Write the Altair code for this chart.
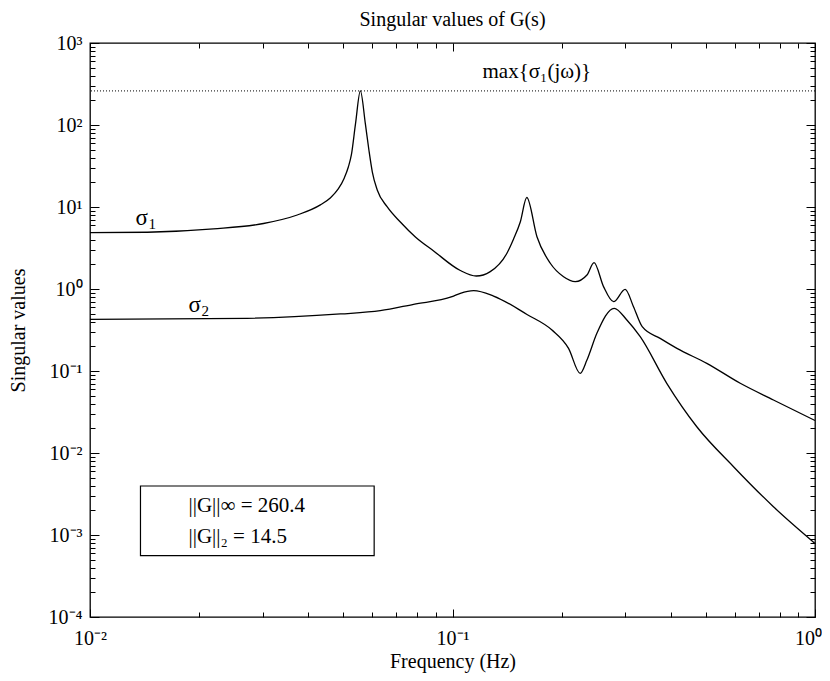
import altair as alt
import pandas as pd

# ---- data ----
s1_freq = [0.0100, 0.0144, 0.0219, 0.0301, 0.0373, 0.0432, 0.0460, 0.0484, 0.0503, 0.0516,
           0.0526, 0.0540, 0.0557, 0.0575, 0.0588, 0.0601, 0.0620, 0.0660, 0.0718, 0.0790,
           0.0887, 0.1051, 0.1163, 0.1271, 0.1413, 0.1474, 0.1538, 0.1603, 0.1710, 0.1861,
           0.2025, 0.2181, 0.2349, 0.2457, 0.2610, 0.2782, 0.2995, 0.3157, 0.3337, 0.374,
           0.416, 0.503, 0.622, 0.768, 1.0]
s1_val = [4.86, 4.92, 5.40, 6.29, 7.99, 10.6, 12.9, 16.6, 22.6, 30.7,
          43.1, 103.0, 260.4, 103.0, 49.6, 26.7, 16.1, 10.1, 6.56, 4.31,
          2.91, 1.68, 1.44, 1.63, 2.73, 4.07, 6.56, 13.06, 4.34, 2.06,
          1.41, 1.23, 1.48, 2.10, 1.07, 0.70, 0.99, 0.608, 0.347, 0.250,
          0.189, 0.124, 0.0708, 0.0443, 0.0249]

s2_freq = [0.0100, 0.0271, 0.0491, 0.0632, 0.0781, 0.0997, 0.1051, 0.1144, 0.1298, 0.1605,
           0.1881, 0.2090, 0.2250, 0.2349, 0.2502, 0.2793, 0.3027, 0.3295, 0.390, 0.472,
           0.596, 0.768, 1.0]
s2_val = [0.427, 0.439, 0.496, 0.544, 0.651, 0.805, 0.886, 0.953, 0.821, 0.489,
          0.316, 0.189, 0.0937, 0.136, 0.288, 0.582, 0.419, 0.262, 0.0708, 0.0209,
          0.00681, 0.00221, 0.00079]

hinf_value = [260.4]

title_text = ["Singular values of G(s)"]
title_pos = [0.1, 1590.0]

sig_text = ["σ", "σ"]
sig_sub = ["1", "2"]
sig_freq = [0.01335, 0.0187]
sig_val = [7.3, 0.638]

ann_text = ["max{σ₁(jω)}", "||G||∞ = 260.4", "||G||₂ = 14.5"]
ann_freq = [0.121, 0.0187, 0.0187]
ann_val = [443.0, 0.00226, 0.000946]

box_f = [0.01378, 0.0608]
box_v = [0.00056, 0.00396]

x_major = [0.01, 0.1, 1.0]
x_minor = [k * 10.0 ** e for e in (-2, -1) for k in range(2, 10)]
y_major = [10.0 ** e for e in range(-4, 4)]
y_minor = [k * 10.0 ** e for e in range(-4, 3) for k in range(2, 10)]

W, H = 725, 574
FONT = "Liberation Serif"
FS = 20

lines = pd.DataFrame({
    "f": s1_freq + s2_freq,
    "v": s1_val + s2_val,
    "s": ["s1"] * len(s1_freq) + ["s2"] * len(s2_freq),
})
ann = pd.DataFrame({"t": ann_text, "f": ann_freq, "v": ann_val})
sig = pd.DataFrame({"t": sig_text, "sub": sig_sub, "f": sig_freq, "v": sig_val})
ttl = pd.DataFrame({"t": title_text, "f": [title_pos[0]], "v": [title_pos[1]]})
box = pd.DataFrame({"f1": [box_f[0]], "f2": [box_f[1]], "v1": [box_v[0]], "v2": [box_v[1]]})
rule = pd.DataFrame({"v": hinf_value})

xs = alt.Scale(type="log", domain=[0.01, 1.0], nice=False)
ys = alt.Scale(type="log", domain=[1e-4, 1e3], nice=False)

sup = ("'10' + (datum.value < 1 ? '⁻' : '') + "
       "['⁰','¹','²','³','⁴'][round(abs(log(datum.value)/LN10))]")

# label axes (outside)
x_lab = alt.Axis(values=x_major, ticks=False, domain=False, labelExpr=sup, labelPadding=11,
                 labelOffset={"condition": {"test": "datum.value == 1", "value": -7}, "value": 0},
                 title="Frequency (Hz)", titleY=34, titleBaseline="top", labelFlush=False)
y_lab = alt.Axis(values=y_major, ticks=False, domain=False, labelExpr=sup, labelPadding=8,
                 title="Singular values", titleX=-66, titleY=H / 2, titleAngle=-90,
                 titleBaseline="alphabetic", labelFlush=False)

main = alt.Chart(lines).mark_line(color="black", strokeWidth=1.3, interpolate="monotone").encode(
    x=alt.X("f:Q", scale=xs, axis=x_lab),
    y=alt.Y("v:Q", scale=ys, axis=y_lab),
    detail="s:N",
)


def tick_layer(xvals, yvals, xorient, yorient, xsize, ysize):
    ax = alt.Axis(values=xvals, orient=xorient, offset=-H, labels=False, domain=False,
                  tickSize=xsize, title=None, grid=False)
    ay = alt.Axis(values=yvals, orient=yorient, offset=-W, labels=False, domain=False,
                  tickSize=ysize, title=None, grid=False)
    return alt.Chart(lines).mark_line(strokeOpacity=0).encode(
        x=alt.X("f:Q", scale=xs, axis=ax),
        y=alt.Y("v:Q", scale=ys, axis=ay),
        detail="s:N",
    )


t1 = tick_layer(x_major, y_major, "top", "right", 8, 9)     # bottom / left, inward
t2 = tick_layer(x_minor, y_minor, "top", "right", 5, 5)
t3 = tick_layer(x_major, y_major, "bottom", "left", 8, 9)   # top / right, inward
t4 = tick_layer(x_minor, y_minor, "bottom", "left", 5, 5)

hline = alt.Chart(rule).mark_rule(color="black", strokeWidth=1, strokeDash=[1, 2]).encode(
    y=alt.Y("v:Q", scale=ys, axis=None)
)


def text_layer(df, field, size, align="left", baseline="middle", dx=0, dy=0):
    return alt.Chart(df).mark_text(align=align, baseline=baseline, font=FONT, fontSize=size,
                                   color="black", dx=dx, dy=dy).encode(
        x=alt.X("f:Q", scale=xs, axis=None),
        y=alt.Y("v:Q", scale=ys, axis=None),
        text=f"{field}:N",
    )


texts = text_layer(ann, "t", 21)
sig_main = text_layer(sig, "t", 23)
sig_subs = text_layer(sig, "sub", 15, dx=13, dy=6)
title_layer = text_layer(ttl, "t", 20, align="center", baseline="alphabetic")

boxl = alt.Chart(box).mark_rect(fill="white", fillOpacity=0, stroke="black", strokeWidth=1.2).encode(
    x=alt.X("f1:Q", scale=xs, axis=None),
    x2="f2:Q",
    y=alt.Y("v1:Q", scale=ys, axis=None),
    y2="v2:Q",
)

chart = alt.layer(main, t1, t2, t3, t4, hline, boxl, texts, sig_main, sig_subs,
                  title_layer).resolve_axis(
    x="independent", y="independent"
).properties(
    width=W, height=H,
    autosize=alt.AutoSizeParams(type="none"),
    padding={"left": 82, "top": 35, "right": 7, "bottom": 56},
).configure_view(stroke="black", strokeWidth=1.3).configure_axis(
    grid=False, tickColor="black", tickWidth=1, labelFont=FONT, labelFontSize=FS,
    labelColor="black", titleFont=FONT, titleFontSize=FS, titleFontWeight="normal",
    titleColor="black",
)

chart.save("out.html", embed_options={"renderer": "svg", "actions": False})
